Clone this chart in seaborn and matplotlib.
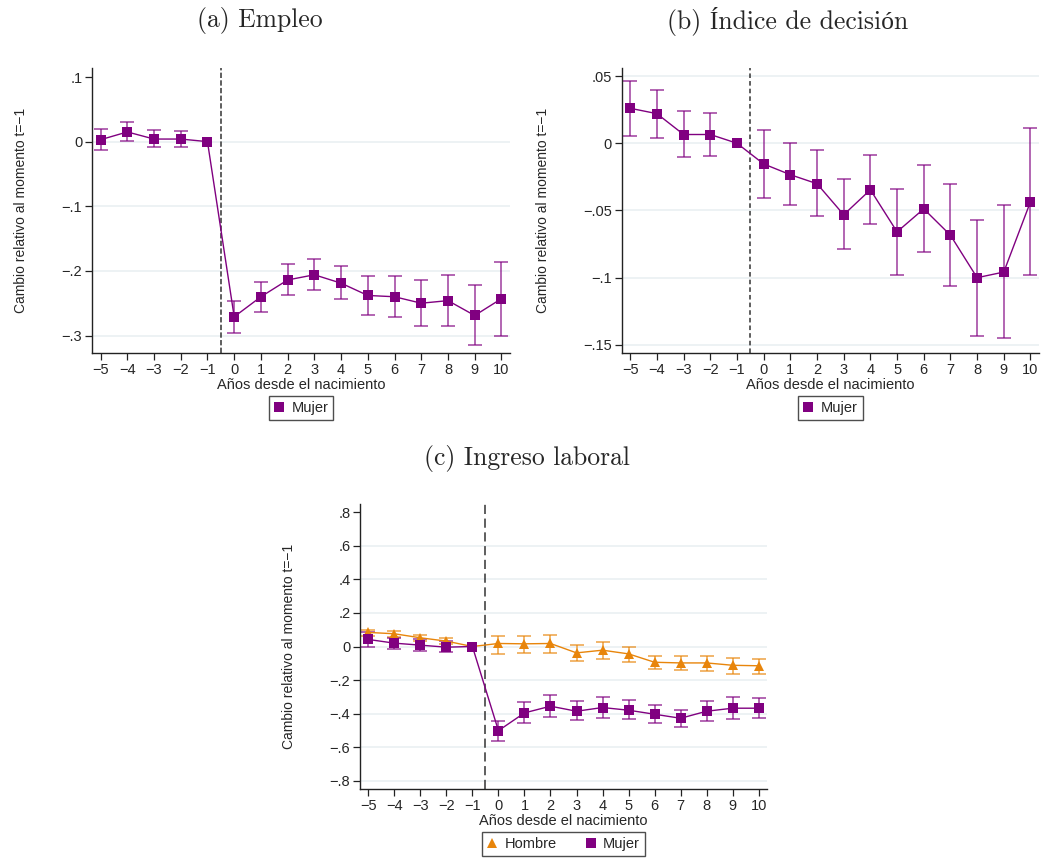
import matplotlib
matplotlib.use("Agg")
import matplotlib.pyplot as plt
import numpy as np
import pandas as pd
import seaborn as sns
from matplotlib.lines import Line2D
from matplotlib.ticker import FuncFormatter

# Event-time axis (years relative to birth of first child)
years = list(range(-5, 11))

# (a) Empleo - Mujer
empleo_coef = [0.003, 0.015, 0.004, 0.004, 0.0, -0.271, -0.240, -0.214, -0.206, -0.219,
               -0.238, -0.240, -0.250, -0.246, -0.269, -0.243]
empleo_lo = [-0.013, 0.0005, -0.009, -0.009, np.nan, -0.296, -0.263, -0.238, -0.230, -0.244,
             -0.268, -0.272, -0.285, -0.285, -0.314, -0.300]
empleo_hi = [0.019, 0.030, 0.018, 0.0165, np.nan, -0.246, -0.217, -0.190, -0.181, -0.193,
             -0.208, -0.208, -0.214, -0.207, -0.222, -0.186]

# (b) Indice de decision - Mujer
decision_coef = [0.026, 0.022, 0.0065, 0.0065, 0.0, -0.0154, -0.0234, -0.0301, -0.0532, -0.0346,
                 -0.0659, -0.0488, -0.0684, -0.100, -0.0958, -0.0435]
decision_lo = [0.0057, 0.0037, -0.0102, -0.0097, np.nan, -0.0405, -0.0463, -0.0542, -0.0789, -0.0604,
               -0.098, -0.0806, -0.1062, -0.143, -0.1448, -0.0983]
decision_hi = [0.0463, 0.0398, 0.0239, 0.0224, np.nan, 0.0097, 0.0005, -0.0052, -0.0266, -0.0087,
               -0.034, -0.0164, -0.0303, -0.0572, -0.0458, 0.0117]

# (c) Ingreso laboral - Hombre / Mujer
ingreso_h_coef = [0.084, 0.076, 0.052, 0.032, 0.0, 0.018, 0.016, 0.018, -0.038, -0.022,
                  -0.044, -0.094, -0.098, -0.098, -0.112, -0.115]
ingreso_h_lo = [0.060, 0.056, 0.032, 0.016, np.nan, -0.042, -0.036, -0.040, -0.088, -0.072,
                -0.090, -0.135, -0.143, -0.149, -0.165, -0.163]
ingreso_h_hi = [0.100, 0.092, 0.066, 0.048, np.nan, 0.064, 0.060, 0.070, 0.008, 0.024,
                -0.002, -0.054, -0.056, -0.054, -0.068, -0.074]
ingreso_m_coef = [0.042, 0.020, 0.008, -0.004, 0.0, -0.502, -0.396, -0.356, -0.386, -0.364,
                  -0.380, -0.404, -0.428, -0.386, -0.368, -0.368]
ingreso_m_lo = [0.0, -0.014, -0.026, -0.034, np.nan, -0.565, -0.454, -0.422, -0.438, -0.424,
                -0.432, -0.456, -0.478, -0.444, -0.430, -0.424]
ingreso_m_hi = [0.088, 0.052, 0.044, 0.030, np.nan, -0.444, -0.332, -0.287, -0.328, -0.302,
                -0.322, -0.346, -0.378, -0.328, -0.304, -0.306]

PURPLE = "#800080"
ORANGE = "#E8850B"
GRID = "#E8EFF1"
YLABEL = "Cambio relativo al momento t=\u22121"
XLABEL = "A\u00f1os desde el nacimiento"


def stata_fmt(v, _pos=None):
    # Stata-style labels: .1, 0, -.05
    if abs(v) < 1e-9:
        return "0"
    s = f"{abs(v):.2f}".rstrip("0").lstrip("0")
    return ("\u2212" if v < 0 else "") + s


def make_df(coef, lo, hi):
    return pd.DataFrame({"t": years, "coef": coef, "lo": lo, "hi": hi})


def draw_series(ax, df, color, marker, label):
    ci = df.dropna(subset=["lo", "hi"])
    ax.errorbar(ci["t"], ci["coef"], yerr=[ci["coef"] - ci["lo"], ci["hi"] - ci["coef"]],
                fmt="none", ecolor=color, alpha=0.65, elinewidth=1.3, capsize=5,
                capthick=1.3, zorder=2)
    sns.lineplot(data=df, x="t", y="coef", ax=ax, color=color, linewidth=1.0,
                 marker=marker, markersize=7.5, markeredgewidth=0, zorder=3,
                 estimator=None, legend=False)
    return Line2D([], [], linestyle="none", marker=marker, color=color,
                  markersize=6.5, markeredgewidth=0, label=label)


def style_axes(ax, ylim, yticks, grid_ticks, dash):
    ax.set_xlim(-5.32, 10.32)
    ax.set_ylim(*ylim)
    ax.set_xticks(years)
    ax.set_xticklabels([str(y).replace("-", "\u2212") for y in years])
    ax.set_yticks(yticks)
    ax.yaxis.set_major_formatter(FuncFormatter(stata_fmt))
    for g in grid_ticks:
        ax.axhline(g, color=GRID, linewidth=1.1, zorder=0)
    ax.axvline(-0.5, color="#333333", linewidth=1.1, linestyle=dash, zorder=1)
    sns.despine(ax=ax)
    for s in ["left", "bottom"]:
        ax.spines[s].set_color("#222222")
        ax.spines[s].set_linewidth(1.0)
    ax.tick_params(axis="both", direction="out", length=5, width=0.9, color="#222222",
                   labelsize=10.5, pad=2, left=True, bottom=True)
    ax.set_xlabel(XLABEL, fontsize=10.5, labelpad=1)
    ax.set_ylabel(YLABEL, fontsize=10, labelpad=24)


def add_legend(ax, handles, ncol):
    leg = ax.legend(handles=handles, loc="center", bbox_to_anchor=(0.5, -0.193), ncol=ncol,
                    frameon=True, fancybox=False, fontsize=10.5, handlelength=0.7,
                    handletextpad=0.5, columnspacing=2.0, borderpad=0.35)
    leg.get_frame().set_edgecolor("#222222")
    leg.get_frame().set_linewidth(1.0)


def main():
    sns.set_theme(style="white")
    plt.rcParams["font.family"] = ["Liberation Sans", "DejaVu Sans"]

    fig = plt.figure(figsize=(10.41, 8.58), dpi=100)
    ax_a = fig.add_axes([0.0884, 0.5886, 0.4015, 0.3322])
    ax_b = fig.add_axes([0.5972, 0.5886, 0.4009, 0.3322])
    ax_c = fig.add_axes([0.3458, 0.0804, 0.3910, 0.3322])

    # (a) Empleo
    h = draw_series(ax_a, make_df(empleo_coef, empleo_lo, empleo_hi), PURPLE, "s", "Mujer")
    style_axes(ax_a, (-0.327, 0.114), [0.1, 0, -0.1, -0.2, -0.3], [0, -0.1, -0.2, -0.3],
               (0, (3.5, 1.5)))
    add_legend(ax_a, [h], 1)

    # (b) Indice de decision
    h = draw_series(ax_b, make_df(decision_coef, decision_lo, decision_hi), PURPLE, "s", "Mujer")
    style_axes(ax_b, (-0.156, 0.056), [0.05, 0, -0.05, -0.1, -0.15],
               [0.05, 0, -0.05, -0.1, -0.15], (0, (3, 2)))
    add_legend(ax_b, [h], 1)

    # (c) Ingreso laboral
    h1 = draw_series(ax_c, make_df(ingreso_h_coef, ingreso_h_lo, ingreso_h_hi), ORANGE, "^", "Hombre")
    h2 = draw_series(ax_c, make_df(ingreso_m_coef, ingreso_m_lo, ingreso_m_hi), PURPLE, "s", "Mujer")
    style_axes(ax_c, (-0.85, 0.85), [0.8, 0.6, 0.4, 0.2, 0, -0.2, -0.4, -0.6, -0.8],
               [0.6, 0.4, 0.2, 0, -0.2, -0.4, -0.6, -0.8], (0, (6, 3)))
    add_legend(ax_c, [h1, h2], 2)

    # Panel titles in a LaTeX-like serif (accented glyphs fall back to Liberation Serif)
    serif = ["cmr10", "Liberation Serif"]
    fig.text(260 / 1041, 1 - 21 / 858, "(a) Empleo", ha="center", va="center",
             fontsize=18.5, family=serif)
    fig.text(788 / 1041, 1 - 21 / 858, "(b) \u00cdndice de decisi\u00f3n", ha="center",
             va="center", fontsize=18.5, family=serif)
    fig.text(527 / 1041, 1 - 458 / 858, "(c) Ingreso laboral", ha="center", va="center",
             fontsize=18.5, family=serif)

    fig.savefig("out.png", dpi=100)
    plt.close(fig)


if __name__ == "__main__":
    main()
